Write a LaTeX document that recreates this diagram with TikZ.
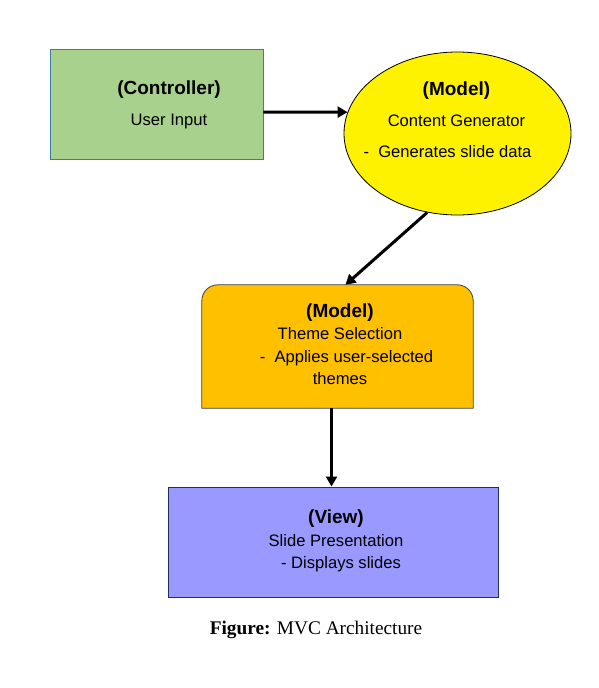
\documentclass[tikz,border=0pt]{standalone}
\usepackage{fontspec}
\setmainfont{Liberation Serif}
\setsansfont{Liberation Sans}
\usetikzlibrary{shapes.geometric, arrows.meta, backgrounds}

\definecolor{ctrlgreen}{HTML}{A9D18E}
\definecolor{ctrlline}{HTML}{3A7CA5}
\definecolor{themeorange}{HTML}{FFC000}
\definecolor{themeline}{HTML}{3F3F3F}
\definecolor{viewblue}{HTML}{9999FF}
\definecolor{viewline}{HTML}{1F2F5F}

\newcommand{\headtext}[1]{{\bfseries\fontsize{19}{22.5}\selectfont #1}}

\tikzstyle{ctrlbox} = [rectangle,
minimum width=213pt,
minimum height=110pt,
draw=ctrlline,
line width=0.8pt,
fill=ctrlgreen]
\tikzstyle{genellipse} = [ellipse,
minimum width=227pt,
minimum height=163pt,
draw=black,
line width=0.8pt,
fill=yellow]
\tikzstyle{themebox} = [rectangle,
minimum width=271pt,
minimum height=123pt,
text centered,
align=center,
font=\sffamily\fontsize{16.6}{22.5}\selectfont]
\tikzstyle{viewbox} = [rectangle,
minimum width=330pt,
minimum height=110pt,
text centered,
align=center,
draw=viewline,
line width=1pt,
fill=viewblue,
font=\sffamily\fontsize{16.6}{22.5}\selectfont]
\tikzstyle{bigtext} = [align=center,
font=\sffamily\fontsize{16.6}{31}\selectfont]
\tikzstyle{arrow} = [line width=3pt,-{Triangle[length=10pt,width=11pt]}]

\begin{document}
\begin{tikzpicture}[x=1pt,y=-1pt]
\useasboundingbox (0,0) rectangle (599,688);

\node (ctrl) [ctrlbox] at (156.5,104) {};
\node (ctrltext) [bigtext] at (169,105) {\headtext{(Controller)}\\User Input};
\node (gen) [genellipse] at (457.5,133.5) {};
\node (gentext) [bigtext] at (456.5,120) {\headtext{(Model)}\\Content Generator\\-\ \ Generates slide data\hspace*{18pt}};
\node (theme) [themebox] at (337.5,346.5) {};
\node (themetext) [themebox, minimum width=0pt, minimum height=0pt] at (340,344) {\headtext{(Model)}\\Theme Selection\\\hspace*{13pt}-\ \ Applies user-selected\\themes};
\node (view) [viewbox] at (333,542) {};
\node (viewtext) [viewbox, draw=none, fill=none, minimum width=0pt, minimum height=0pt] at (336,541) {\headtext{(View)}\\Slide Presentation\\\hspace*{10pt}- Displays slides};
\node (caption) at (316,630) {\fontsize{19.3}{22}\selectfont\textbf{Figure:} MVC Architecture};

% orange box, rounded on top only
\begin{scope}[on background layer]
\draw [fill=themeorange, draw=themeline, line width=0.8pt] (theme.south west) [rounded corners=16pt] -- (theme.north west) -- (theme.north east) [sharp corners] -- (theme.south east) -- cycle;
\end{scope}

\draw [arrow] ([yshift=-8pt]ctrl.east) -- (gen.169);
\draw [arrow] (gen.249) -- ([xshift=8pt]theme.north);
\draw [arrow] ([xshift=-6pt]theme.south) -- ([xshift=-6pt]theme.south |- view.north);

\end{tikzpicture}
\end{document}
